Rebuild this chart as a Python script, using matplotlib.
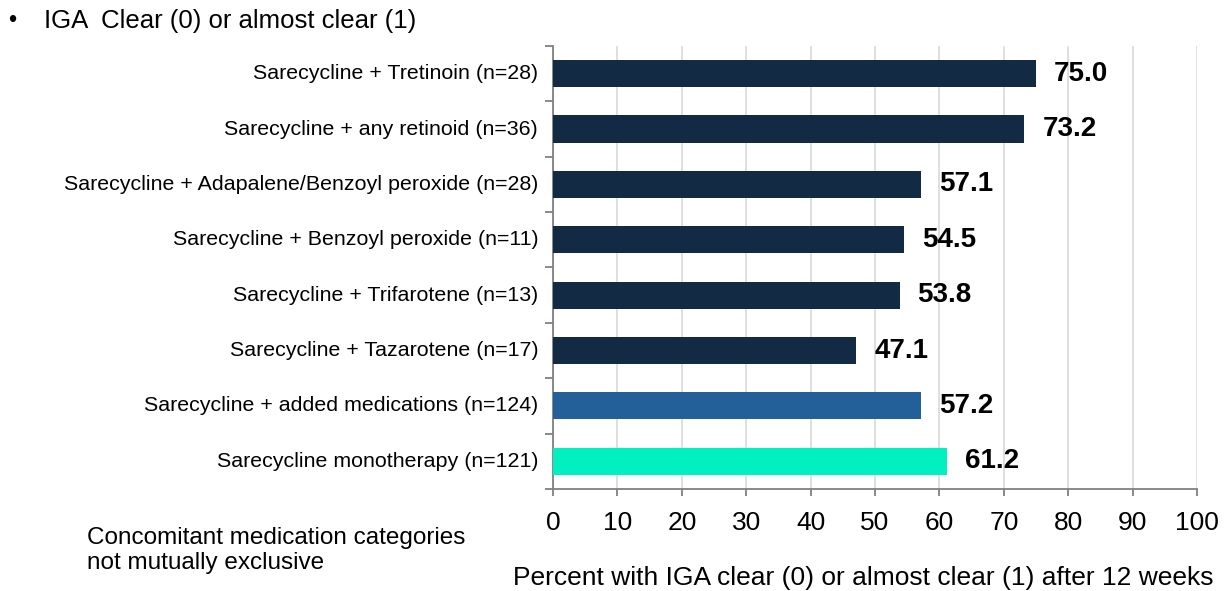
import matplotlib.pyplot as plt
import numpy as np

plt.rcParams['font.family'] = ['Liberation Sans', 'DejaVu Sans']

# data, top to bottom
labels = [
    "Sarecycline + Tretinoin (n=28)",
    "Sarecycline + any retinoid (n=36)",
    "Sarecycline + Adapalene/Benzoyl peroxide (n=28)",
    "Sarecycline + Benzoyl peroxide (n=11)",
    "Sarecycline + Trifarotene (n=13)",
    "Sarecycline + Tazarotene (n=17)",
    "Sarecycline + added medications (n=124)",
    "Sarecycline monotherapy (n=121)",
]
values = [75.0, 73.2, 57.1, 54.5, 53.8, 47.1, 57.2, 61.2]
colors = ["#132a45"] * 6 + ["#23609a", "#00f0c0"]
xticks = list(range(0, 101, 10))

fig = plt.figure(figsize=(12.29, 5.91), dpi=100)
ax = fig.add_axes([0.45, 0.1726, 0.524, 0.7496])

y = np.arange(len(labels))[::-1]
ax.barh(y, values, height=0.49, color=colors, zorder=3)

# value labels
for yi, v in zip(y, values):
    ax.text(v + 2.8, yi, f"{v:.1f}", va="center", ha="left",
            fontsize=20, fontweight="bold", color="black")

ax.set_xlim(0, 100)
ax.set_ylim(-0.5, len(labels) - 0.5)
ax.set_xticks(xticks)
ax.set_xticklabels([str(t) for t in xticks], fontsize=19)
ax.grid(axis="x", color="#d9d9d9", linewidth=1.2, zorder=0)

# category labels as text, ticks on the boundaries
ax.set_yticks(np.arange(-0.5, len(labels), 1.0))
ax.set_yticklabels([])
for yi, lab in zip(y, labels):
    ax.text(-2.3, yi, lab, ha="right", va="center", fontsize=15.4)

for s in ["top", "right"]:
    ax.spines[s].set_visible(False)
for s in ["left", "bottom"]:
    ax.spines[s].set_color("#808080")
    ax.spines[s].set_linewidth(1.3)
ax.tick_params(axis="y", length=6, color="#808080", width=1.3)
ax.tick_params(axis="x", length=5, color="#808080", width=1.3, pad=11)

ax.set_xlabel("Percent with IGA clear (0) or almost clear (1) after 12 weeks",
              fontsize=19)
ax.xaxis.set_label_coords(0.481, -0.200)
ax.xaxis.label.set_va("center")

fig.text(0.010, 0.964, "•", fontsize=17, va="center", ha="center")
fig.text(0.036, 0.964, "IGA  Clear (0) or almost clear (1)", fontsize=18.5, va="center")
fig.text(0.071, 0.069, "Concomitant medication categories\nnot mutually exclusive",
         fontsize=17.5, va="center", ha="left", linespacing=1.2)

fig.savefig("out.png", dpi=100)
